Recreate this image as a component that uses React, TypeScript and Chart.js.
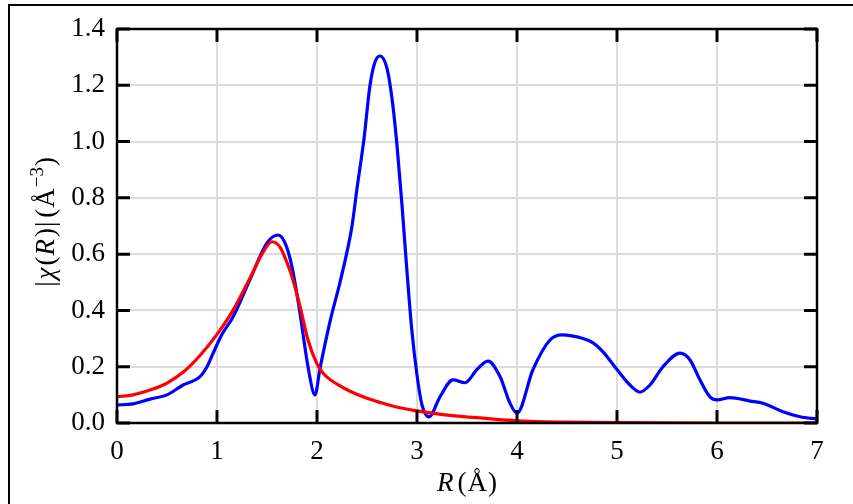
import React, { useEffect, useRef } from "react";
import { Chart, registerables } from "chart.js";
Chart.register(...registerables);

// Blue: experimental |chi(R)|
const rBlue = [0, 0.16, 0.33, 0.5, 0.66, 0.83, 0.9, 0.97, 1.05, 1.16, 1.33, 1.5, 1.61, 1.68, 1.75, 1.83, 1.91, 1.98, 2.03, 2.13, 2.23, 2.3, 2.35, 2.4, 2.47, 2.53, 2.58, 2.63, 2.7, 2.75, 2.8, 2.85, 2.9, 2.95, 3.0, 3.05, 3.12, 3.23, 3.36, 3.48, 3.6, 3.71, 3.83, 3.93, 4.0, 4.16, 4.33, 4.45, 4.66, 4.76, 4.86, 5.0, 5.13, 5.23, 5.33, 5.46, 5.63, 5.73, 5.83, 5.93, 6.0, 6.13, 6.33, 6.46, 6.66, 6.83, 7.0];
const chiBlue = [0.064, 0.068, 0.085, 0.1, 0.135, 0.165, 0.2, 0.255, 0.315, 0.377, 0.51, 0.64, 0.668, 0.64, 0.555, 0.39, 0.2, 0.1, 0.194, 0.36, 0.5, 0.608, 0.7, 0.833, 1.01, 1.2, 1.283, 1.304, 1.26, 1.153, 0.987, 0.774, 0.537, 0.324, 0.17, 0.064, 0.022, 0.093, 0.153, 0.143, 0.19, 0.22, 0.165, 0.07, 0.035, 0.19, 0.295, 0.313, 0.3, 0.285, 0.253, 0.19, 0.135, 0.11, 0.135, 0.2, 0.248, 0.224, 0.153, 0.093, 0.082, 0.09, 0.078, 0.07, 0.04, 0.022, 0.014];

// Red: fit
const rRed = [0, 0.16, 0.33, 0.5, 0.66, 0.83, 1.0, 1.16, 1.33, 1.45, 1.55, 1.63, 1.7, 1.75, 1.83, 1.91, 2.0, 2.05, 2.1, 2.2, 2.33, 2.5, 2.66, 2.83, 3.0, 3.17, 3.33, 3.66, 4.0, 4.5, 5.0, 6.0, 7.0];
const chiRed = [0.093, 0.1, 0.117, 0.142, 0.18, 0.24, 0.315, 0.4, 0.515, 0.6, 0.644, 0.625, 0.57, 0.52, 0.415, 0.295, 0.21, 0.182, 0.163, 0.138, 0.113, 0.088, 0.07, 0.054, 0.043, 0.034, 0.027, 0.017, 0.008, 0.003, 0.001, 0, 0];

const xTicks = [0, 1, 2, 3, 4, 5, 6, 7];
const yTicks = [0, 0.2, 0.4, 0.6, 0.8, 1.0, 1.2, 1.4];

const FONT = "'Liberation Serif', 'DejaVu Serif', serif";
const FS = 27;

const decorPlugin = {
  id: "decor",
  afterDraw(chart: any) {
    const ctx = chart.ctx as CanvasRenderingContext2D;
    const { left, right, top, bottom } = chart.chartArea;
    const xs = chart.scales.x;
    const ys = chart.scales.y;
    ctx.save();
    // outer frame
    ctx.fillStyle = "#000";
    ctx.fillRect(8, 4, 2, 600);
    ctx.fillRect(8, 4, 1000, 2);
    // inner ticks
    ctx.strokeStyle = "#000";
    ctx.lineWidth = 3;
    const tl = 13;
    ctx.beginPath();
    xTicks.forEach((v) => {
      const px = xs.getPixelForValue(v);
      ctx.moveTo(px, bottom);
      ctx.lineTo(px, bottom - tl);
      ctx.moveTo(px, top);
      ctx.lineTo(px, top + tl);
    });
    yTicks.forEach((v) => {
      const py = ys.getPixelForValue(v);
      ctx.moveTo(left, py);
      ctx.lineTo(left + tl, py);
      ctx.moveTo(right, py);
      ctx.lineTo(right - tl, py);
    });
    ctx.stroke();
    // axes box
    ctx.lineWidth = 2.5;
    ctx.strokeRect(left, top, right - left, bottom - top);

    ctx.fillStyle = "#000";
    ctx.textBaseline = "alphabetic";
    const measure = (parts: any[], size: number) => {
      let w = 0;
      parts.forEach((p) => {
        const s = p.sup ? size * 0.7 : size;
        ctx.font = `${p.it ? "italic " : ""}${s}px ${FONT}`;
        w += ctx.measureText(p.t).width + (p.g || 0);
      });
      return w;
    };
    const drawParts = (parts: any[], size: number, x0: number, y0: number) => {
      let x = x0;
      parts.forEach((p) => {
        const s = p.sup ? size * 0.7 : size;
        ctx.font = `${p.it ? "italic " : ""}${s}px ${FONT}`;
        ctx.fillText(p.t, x, p.sup ? y0 - size * 0.42 : y0);
        x += ctx.measureText(p.t).width + (p.g || 0);
      });
    };
    // x title
    const xParts = [
      { t: "R", it: true, g: 4 },
      { t: "(", it: false, g: 1 },
      { t: "Å", it: false, g: 1 },
      { t: ")", it: false },
    ];
    const cx = (left + right) / 2;
    const wx = measure(xParts, FS);
    drawParts(xParts, FS, cx - wx / 2, 491);

    // y title (rotated)
    const yParts = [
      { t: "|", it: false, g: 2 },
      { t: "χ", it: true, g: 2 },
      { t: "(", it: false, g: 1 },
      { t: "R", it: true, g: 2 },
      { t: ")", it: false, g: 1 },
      { t: "|", it: false, g: 4 },
      { t: "(", it: false, g: 1 },
      { t: "Å", it: false, g: 1 },
      { t: "−3", it: false, sup: true, g: 1 },
      { t: ")", it: false },
    ];
    const cy = 222;
    const wy = measure(yParts, FS);
    ctx.translate(54, cy);
    ctx.rotate(-Math.PI / 2);
    drawParts(yParts, FS, -wy / 2, 0);
    ctx.restore();
  },
};

export default function App() {
  const ref = useRef<HTMLCanvasElement | null>(null);
  useEffect(() => {
    if (!ref.current) return;
    const chart = new Chart(ref.current, {
      type: "line",
      data: {
        datasets: [
          {
            label: "fit",
            data: rRed.map((r, i) => ({ x: r, y: chiRed[i] })),
            borderColor: "#ff0000",
            borderWidth: 3.2,
            pointRadius: 0,
            cubicInterpolationMode: "monotone",
            fill: false,
          },
          {
            label: "data",
            data: rBlue.map((r, i) => ({ x: r, y: chiBlue[i] })),
            borderColor: "#0000ff",
            borderWidth: 3.2,
            pointRadius: 0,
            cubicInterpolationMode: "monotone",
            fill: false,
          },
        ],
      },
      options: {
        animation: false,
        responsive: false,
        maintainAspectRatio: false,
        layout: { padding: { left: 0, right: 36, top: 29, bottom: 0 } },
        plugins: { legend: { display: false }, tooltip: { enabled: false } },
        scales: {
          x: {
            type: "linear",
            min: 0,
            max: 7,
            afterFit: (s: any) => {
              s.height = 81;
            },
            afterBuildTicks: (s: any) => {
              s.ticks = xTicks.map((v) => ({ value: v }));
            },
            ticks: {
              color: "#000",
              font: { family: FONT, size: FS },
              padding: 13,
              maxRotation: 0,
              callback: (v: any) => String(v),
            },
            grid: { color: "#dcdcdc", lineWidth: 2, drawTicks: false },
            border: { display: false },
          },
          y: {
            type: "linear",
            min: 0,
            max: 1.4,
            afterFit: (s: any) => {
              s.width = 117;
            },
            afterBuildTicks: (s: any) => {
              s.ticks = yTicks.map((v) => ({ value: v }));
            },
            ticks: {
              color: "#000",
              font: { family: FONT, size: FS },
              padding: 12,
              callback: (v: any) => Number(v).toFixed(1),
            },
            grid: { color: "#dcdcdc", lineWidth: 2, drawTicks: false },
            border: { display: false },
          },
        },
      },
      plugins: [decorPlugin],
    } as any);
    return () => chart.destroy();
  }, []);
  return (
    <div style={{ position: "fixed", left: 0, top: 0, width: 853, height: 504 }}>
      <canvas ref={ref} width={853} height={504} style={{ width: 853, height: 504 }} />
    </div>
  );
}
